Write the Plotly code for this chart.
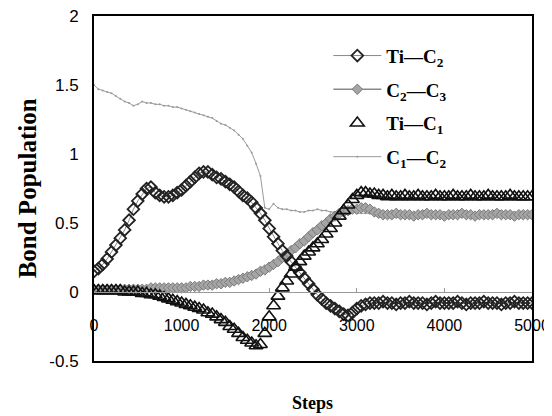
import plotly.graph_objects as go

steps = list(range(0, 5001, 50))

ti_c2 = [0.15, 0.17, 0.20, 0.24, 0.29, 0.34, 0.39, 0.45, 0.52, 0.60,
         0.66, 0.71, 0.75, 0.76, 0.72, 0.70, 0.69, 0.69, 0.70, 0.72,
         0.74, 0.77, 0.80, 0.83, 0.86, 0.87, 0.87, 0.85, 0.83, 0.82,
         0.80, 0.78, 0.76, 0.73, 0.70, 0.68, 0.65, 0.61, 0.57, 0.52,
         0.46, 0.40, 0.35, 0.30, 0.26, 0.22, 0.18, 0.14, 0.10, 0.06,
         0.02, -0.02, -0.05, -0.08, -0.10, -0.12, -0.14, -0.16, -0.17, -0.15,
         -0.12, -0.10, -0.09, -0.08, -0.08, -0.08, -0.07, -0.08, -0.08, -0.09,
         -0.08, -0.08, -0.07, -0.08, -0.08, -0.08, -0.09, -0.08, -0.07, -0.08,
         -0.08, -0.08, -0.08, -0.07, -0.08, -0.09, -0.08, -0.08, -0.08, -0.07,
         -0.08, -0.08, -0.08, -0.09, -0.08, -0.08, -0.07, -0.08, -0.08, -0.08,
         -0.08]

c2_c3 = [0.02, 0.02, 0.02, 0.02, 0.02, 0.02, 0.02, 0.02, 0.02, 0.02,
         0.02, 0.02, 0.02, 0.03, 0.03, 0.03, 0.03, 0.03, 0.03, 0.03,
         0.03, 0.03, 0.04, 0.04, 0.04, 0.05, 0.05, 0.05, 0.06, 0.06,
         0.07, 0.07, 0.08, 0.09, 0.10, 0.11, 0.12, 0.13, 0.15, 0.16,
         0.18, 0.20, 0.22, 0.25, 0.27, 0.30, 0.32, 0.35, 0.37, 0.40,
         0.43, 0.45, 0.48, 0.50, 0.53, 0.55, 0.57, 0.58, 0.59, 0.60,
         0.60, 0.61, 0.61, 0.60, 0.58, 0.57, 0.56, 0.56, 0.56, 0.57,
         0.56, 0.56, 0.56, 0.55, 0.56, 0.56, 0.57, 0.56, 0.56, 0.56,
         0.55, 0.56, 0.56, 0.56, 0.57, 0.56, 0.56, 0.55, 0.56, 0.56,
         0.56, 0.56, 0.57, 0.56, 0.56, 0.56, 0.55, 0.56, 0.56, 0.56,
         0.56]

ti_c1 = [0.01, 0.01, 0.01, 0.01, 0.01, 0.01, 0.01, 0.00, 0.00, 0.00,
         0.00, -0.01, -0.01, -0.02, -0.02, -0.03, -0.04, -0.05, -0.06, -0.07,
         -0.08, -0.09, -0.10, -0.11, -0.12, -0.13, -0.15, -0.16, -0.18, -0.20,
         -0.22, -0.25, -0.27, -0.30, -0.33, -0.35, -0.37, -0.39, -0.38, -0.30,
         -0.18, -0.10, -0.03, 0.03, 0.08, 0.13, 0.18, 0.22, 0.26, 0.29,
         0.32, 0.35, 0.38, 0.42, 0.46, 0.50, 0.55, 0.59, 0.63, 0.67,
         0.70, 0.72, 0.72, 0.71, 0.71, 0.70, 0.70, 0.69, 0.70, 0.69,
         0.69, 0.70, 0.69, 0.69, 0.70, 0.69, 0.69, 0.69, 0.70, 0.69,
         0.69, 0.69, 0.70, 0.69, 0.69, 0.69, 0.70, 0.69, 0.69, 0.69,
         0.70, 0.69, 0.69, 0.69, 0.69, 0.70, 0.69, 0.69, 0.69, 0.69,
         0.69]

c1_c2 = [1.50, 1.47, 1.46, 1.45, 1.44, 1.42, 1.40, 1.38, 1.37, 1.35,
         1.36, 1.38, 1.37, 1.37, 1.36, 1.36, 1.35, 1.35, 1.34, 1.34,
         1.33, 1.32, 1.31, 1.30, 1.29, 1.28, 1.27, 1.26, 1.24, 1.22,
         1.21, 1.19, 1.17, 1.14, 1.11, 1.06, 1.01, 0.93, 0.84, 0.61,
         0.60, 0.64, 0.61, 0.60, 0.60, 0.59, 0.59, 0.58, 0.58, 0.59,
         0.59, 0.60, 0.59, 0.59, 0.58, 0.58, 0.57, 0.57, 0.57, 0.58,
         0.57, 0.57, 0.57, 0.57, 0.57, 0.57, 0.57, 0.57, 0.57, 0.57,
         0.57, 0.57, 0.57, 0.57, 0.57, 0.57, 0.57, 0.57, 0.57, 0.57,
         0.57, 0.57, 0.57, 0.57, 0.57, 0.57, 0.57, 0.57, 0.57, 0.57,
         0.57, 0.57, 0.57, 0.57, 0.57, 0.57, 0.57, 0.57, 0.57, 0.57,
         0.57]

series_names = ["<b>Ti—C<sub>2</sub></b>", "<b>C<sub>2</sub>—C<sub>3</sub></b>",
                "<b>Ti—C<sub>1</sub></b>", "<b>C<sub>1</sub>—C<sub>2</sub></b>"]

x_tick_vals = [0, 1000, 2000, 3000, 4000, 5000]
x_tick_text = ["0", "1000", "2000", "3000", "4000", "5000"]
y_tick_vals = [-0.5, 0, 0.5, 1, 1.5, 2]
y_tick_text = ["-0.5", "0", "0.5", "1", "1.5", "2"]

fig = go.Figure()

fig.add_trace(go.Scatter(
    x=steps, y=c1_c2, name=series_names[3], legendgroup="d", legendrank=4,
    mode="lines+markers", line=dict(color="#9a9a9a", width=1),
    marker=dict(symbol="circle", size=2, color="#9a9a9a")))

fig.add_trace(go.Scatter(
    x=steps, y=c2_c3, name=series_names[1], legendgroup="b", legendrank=2,
    mode="lines+markers", line=dict(color="#8a8a8a", width=1.5),
    marker=dict(symbol="diamond", size=8, color="#a5a5a5",
                line=dict(color="#7a7a7a", width=1))))

fig.add_trace(go.Scatter(
    x=steps, y=ti_c2, name=series_names[0], legendgroup="a", legendrank=1,
    mode="lines+markers", line=dict(color="#888888", width=1),
    marker=dict(symbol="diamond-open", size=9, color="#222222",
                line=dict(color="#222222", width=1.8))))

fig.add_trace(go.Scatter(
    x=steps, y=ti_c1, name=series_names[2], legendgroup="c", legendrank=3,
    mode="markers",
    marker=dict(symbol="triangle-up-open", size=12, color="#111111",
                line=dict(color="#111111", width=1.6))))

# overlay axes: thin zero line with small upward ticks, and the black frame
fig.add_trace(go.Scatter(x=[None], y=[None], xaxis="x2", showlegend=False,
                         hoverinfo="skip"))
fig.add_trace(go.Scatter(x=[None], y=[None], xaxis="x3", showlegend=False,
                         hoverinfo="skip"))

fig.update_layout(
    template="none",
    width=544, height=408,
    margin=dict(l=86, r=20, t=8, b=55, autoexpand=False),
    paper_bgcolor="white", plot_bgcolor="white",
    font=dict(family="Liberation Sans", color="black"),
    xaxis=dict(
        range=[0, 5000], anchor="free", position=0.2, automargin=False,
        showline=False,
        ticks="outside", ticklen=19, tickcolor="rgba(0,0,0,0)",
        tickvals=x_tick_vals, ticktext=x_tick_text, ticklabeloverflow="allow",
        tickfont=dict(family="Liberation Sans", size=16, color="black"),
        showgrid=False, zeroline=False),
    xaxis2=dict(
        range=[0, 5000], overlaying="x", anchor="free", position=0.2,
        automargin=False, showline=True, linecolor="#9a9a9a", linewidth=1,
        ticks="inside", ticklen=4, tickcolor="#9a9a9a", tickwidth=1,
        tickvals=x_tick_vals, showticklabels=False, showgrid=False,
        zeroline=False),
    xaxis3=dict(
        range=[0, 5000], overlaying="x", anchor="y", side="bottom",
        automargin=False, showline=True, mirror=True, linecolor="black",
        linewidth=2, ticks="", showticklabels=False, showgrid=False,
        zeroline=False),
    yaxis=dict(
        range=[-0.5, 2], domain=[0, 1], automargin=False,
        tickvals=y_tick_vals, ticktext=y_tick_text, ticklabeloverflow="allow",
        ticks="outside", ticklen=10, tickcolor="rgba(0,0,0,0)",
        tickfont=dict(family="Liberation Sans", size=17, color="black"),
        showgrid=False, zeroline=False,
        showline=True, mirror=True, linecolor="black", linewidth=2),
    legend=dict(
        x=0.535, y=0.94, xanchor="left", yanchor="top",
        bgcolor="rgba(0,0,0,0)", traceorder="grouped", tracegroupgap=6,
        itemwidth=48,
        font=dict(family="Liberation Serif", size=19, color="black")),
    annotations=[
        dict(text="<b>Steps</b>", xref="paper", yref="paper", x=0.498, y=-0.122,
             showarrow=False, xanchor="center", yanchor="middle",
             font=dict(family="Liberation Serif", size=18, color="black")),
        dict(text="<b>Bond Population</b>", xref="paper", yref="paper", x=-0.151, y=0.5,
             showarrow=False, textangle=-90, xanchor="center", yanchor="middle",
             font=dict(family="Liberation Serif", size=25, color="black")),
    ],
)

fig.write_html("out.html")
